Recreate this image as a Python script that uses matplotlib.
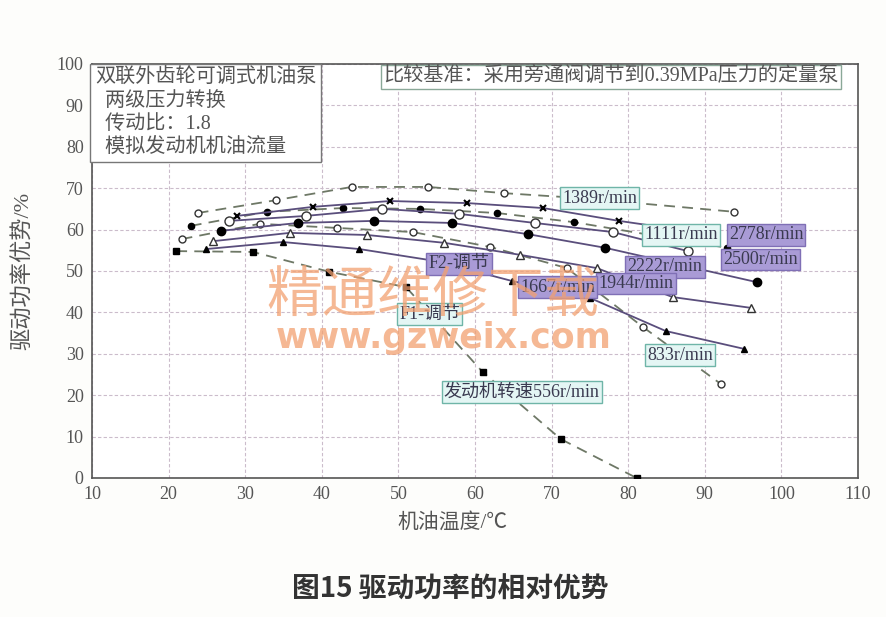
import matplotlib
matplotlib.use("Agg")
import matplotlib.pyplot as plt

plt.rcParams['font.family'] = ['Liberation Serif', 'Noto Sans CJK SC']

# engine speed curves: oil temperature (C) vs drive power advantage (%)
t_556 = [21, 31, 41, 51, 61, 71.2, 81.1]
p_556 = [54.8, 54.6, 49.8, 46.1, 25.6, 9.4, 0.0]

t_833 = [21.7, 31.9, 42.0, 51.9, 62.0, 72.0, 81.9, 92.1]
p_833 = [57.7, 61.4, 60.4, 59.4, 55.8, 50.7, 36.5, 22.7]

t_1111 = [22.9, 32.8, 42.8, 52.8, 62.9, 72.9, 92.9]
p_1111 = [60.9, 64.3, 65.2, 65.0, 64.0, 61.8, 55.6]

t_1389 = [23.8, 34.0, 43.9, 53.9, 63.8, 73.8, 93.8]
p_1389 = [64.0, 67.1, 70.3, 70.3, 68.8, 67.6, 64.3]

t_1667 = [24.9, 34.9, 44.9, 54.9, 64.8, 75.0, 84.9, 95.1]
p_1667 = [55.3, 57.0, 55.3, 52.4, 47.6, 43.5, 35.5, 31.2]

t_1944 = [25.8, 35.8, 45.9, 56.0, 65.9, 75.9, 85.8, 96.0]
p_1944 = [57.2, 59.2, 58.7, 56.8, 53.9, 50.7, 43.7, 41.1]

t_2222 = [26.8, 36.9, 46.8, 57.0, 66.9, 77.0, 96.8]
p_2222 = [59.7, 61.6, 62.1, 61.6, 58.9, 55.6, 47.3]

t_2500 = [27.9, 37.9, 47.9, 57.9, 67.8, 78.0, 87.8]
p_2500 = [62.1, 63.3, 65.0, 63.8, 61.6, 59.4, 54.8]

t_2778 = [28.9, 38.9, 48.9, 59.0, 68.9, 78.8, 88.9]
p_2778 = [63.3, 65.5, 66.9, 66.4, 65.2, 62.1, 59.4]

solid_c = '#5a4e7c'
dash_c = '#6e7866'

fig = plt.figure(figsize=(8.87, 6.17), dpi=100)
fig.patch.set_facecolor('#fdfdfb')
ax = fig.add_axes([0.1037, 0.2253, 0.8636, 0.671])
ax.set_facecolor('white')

# dashed curves (F1 regulation)
dkw = dict(color=dash_c, lw=1.3, dashes=(6, 4), zorder=3)
ax.plot(t_556, p_556, marker='s', ms=4.5, mfc='black', mec='black', **dkw)
ax.plot(t_833, p_833, marker='o', ms=5, mfc='white', mec='#333333', **dkw)
ax.plot(t_1111, p_1111, marker='o', ms=4.5, mfc='black', mec='black', **dkw)
ax.plot(t_1389, p_1389, marker='o', ms=5, mfc='white', mec='#333333', **dkw)

# solid curves (F2 regulation)
skw = dict(color=solid_c, lw=1.3, zorder=3)
ax.plot(t_1667, p_1667, marker='^', ms=5, mfc='black', mec='black', **skw)
ax.plot(t_1944, p_1944, marker='^', ms=5.5, mfc='white', mec='#333333', **skw)
ax.plot(t_2222, p_2222, marker='o', ms=6, mfc='black', mec='black', **skw)
ax.plot(t_2500, p_2500, marker='o', ms=6.5, mfc='white', mec='#333333', **skw)
ax.plot(t_2778, p_2778, marker='x', ms=5, mec='black', mew=1.5, **skw)

ax.set_xlim(10, 110)
ax.set_ylim(0, 100)
ax.set_xticks(range(10, 111, 10))
ax.set_yticks(range(0, 101, 10))
ax.grid(True, color='#cbbccb', lw=0.8, ls=(0, (3, 2)))
ax.tick_params(length=0, labelsize=13, labelcolor='#555555', pad=6)
for s in ax.spines.values():
    s.set_color('#555555')
    s.set_linewidth(1.2)

ax.set_xlabel('机油温度/℃', fontsize=15, color='#555555', labelpad=4)
ax.xaxis.set_label_coords(0.47, -0.085)
ax.set_ylabel('驱动功率优势/%', fontsize=16, color='#555555')
ax.yaxis.set_label_coords(-0.076, 0.5)

# info boxes
ax.text(10.4, 98.9,
        '双联外齿轮可调式机油泵\n  两级压力转换\n  传动比：1.8\n  模拟发动机机油流量',
        fontsize=14.5, color='#555555', va='top', ha='left', linespacing=1.3, zorder=6,
        bbox=dict(boxstyle='square,pad=0.25', fc='white', ec='#777777', lw=1))
ax.text(48.0, 96.9, '比较基准：采用旁通阀调节到0.39MPa压力的定量泵',
        fontsize=14.5, color='#555555', va='center', ha='left', zorder=6,
        bbox=dict(boxstyle='square,pad=0.12', fc='white', ec='#8aa898', lw=1))

purple = dict(boxstyle='square,pad=0.12', fc='#a99bd6', ec='#7f6fb5', lw=1)
cyan = dict(boxstyle='square,pad=0.12', fc='#e4f6f4', ec='#6fb5a8', lw=1)

labels = [
    ('1389r/min', 76.3, 67.6, cyan),
    ('1111r/min', 86.9, 58.7, cyan),
    ('2778r/min', 98.0, 58.7, purple),
    ('2500r/min', 97.3, 52.7, purple),
    ('2222r/min', 84.8, 51.0, purple),
    ('1944r/min', 81.0, 46.9, purple),
    ('1667r/min', 70.8, 46.1, purple),
    ('F2-调节', 57.9, 51.7, purple),
    ('F1-调节', 54.1, 39.6, cyan),
    ('833r/min', 86.8, 29.7, cyan),
    ('发动机转速556r/min', 66.1, 20.8, cyan),
]
for txt, x, y, box in labels:
    ax.text(x, y, txt, fontsize=13, color='#3a3a50', ha='center', va='center',
            zorder=7, bbox=box)

# watermark of the scanned source
fig.text(0.488, 0.52, '精通维修下载', fontsize=40, color='#f2a070', alpha=0.75,
         ha='center', va='center', family=['Noto Sans CJK SC'], zorder=10)
fig.text(0.5, 0.452, 'www.gzweix.com', fontsize=25, color='#f2a070', alpha=0.75,
         fontweight='bold', ha='center', va='center', family=['DejaVu Sans'], zorder=10)

fig.text(0.508, 0.044, '图15 驱动功率的相对优势', fontsize=20, fontweight='bold',
         color='#333333', ha='center', va='center', family=['Noto Sans CJK SC'])

fig.savefig('out.png', dpi=100, facecolor=fig.get_facecolor())
